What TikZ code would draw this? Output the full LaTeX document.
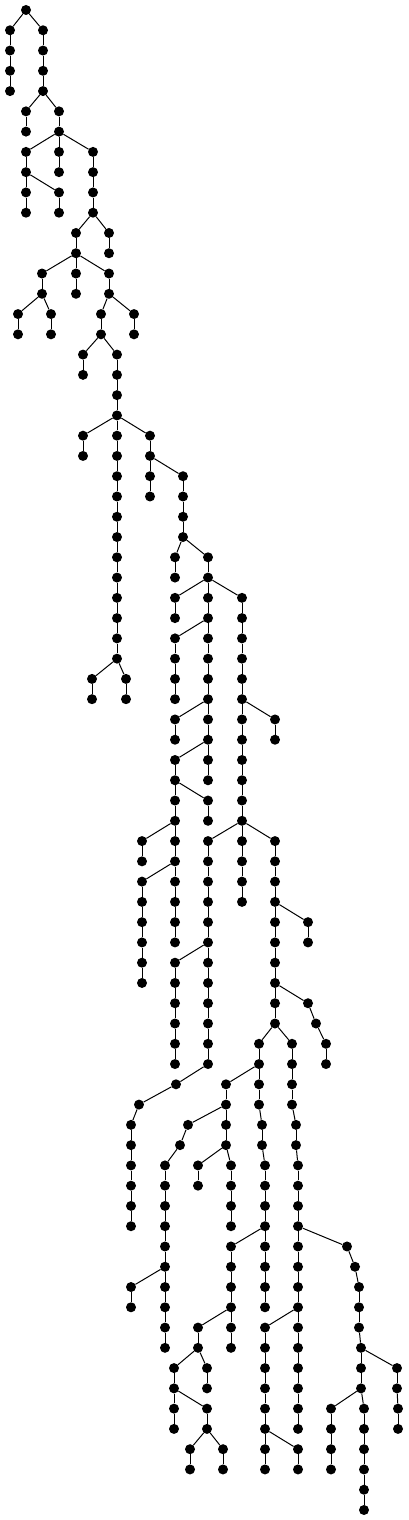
\documentclass[tikz,border=0pt]{standalone}
\begin{document}
\begin{tikzpicture}[x=1pt,y=-1pt,
  dot/.style={circle,fill=black,draw=none,inner sep=0pt,minimum size=10pt},
  edge/.style={line width=1pt,black}]
\useasboundingbox (0,0) rectangle (408,1520);
\node[dot] (n0x26) at (26,10) {};
\foreach \xv/\lv/\pv in {
10/1/0x26, 43/1/0x26,
10/2/1x10, 43/2/1x43,
10/3/2x10, 43/3/2x43,
10/4/3x10, 43/4/3x43,
26/5/4x43, 59/5/4x43,
26/6/5x26, 59/6/5x59,
26/7/6x59, 59/7/6x59, 93/7/6x59,
26/8/7x26, 59/8/7x59, 93/8/7x93,
26/9/8x26, 59/9/8x26, 93/9/8x93,
26/10/9x26, 59/10/9x59, 93/10/9x93,
76/11/10x93, 109/11/10x93,
76/12/11x76, 109/12/11x109,
42/13/12x76, 76/13/12x76, 109/13/12x76,
42/14/13x42, 76/14/13x76, 109/14/13x109,
18/15/14x42, 51/15/14x42, 101/15/14x109, 134/15/14x109,
18/16/15x18, 51/16/15x51, 101/16/15x101, 134/16/15x134,
83/17/16x101, 117/17/16x101,
83/18/17x83, 117/18/17x117,
117/19/18x117,
117/20/19x117,
83/21/20x117, 117/21/20x117, 150/21/20x117,
83/22/21x83, 117/22/21x117, 150/22/21x150,
117/23/22x117, 150/23/22x150, 183/23/22x150,
117/24/23x117, 150/24/23x150, 183/24/23x183,
117/25/24x117, 183/25/24x183,
117/26/25x117, 183/26/25x183,
117/27/26x117, 175/27/26x183, 208/27/26x183,
117/28/27x117, 175/28/27x175, 208/28/27x208,
117/29/28x117, 175/29/28x208, 208/29/28x208, 242/29/28x208,
117/30/29x117, 175/30/29x175, 208/30/29x208, 242/30/29x242,
117/31/30x117, 175/31/30x208, 208/31/30x208, 242/31/30x242,
117/32/31x117, 175/32/31x175, 208/32/31x208, 242/32/31x242,
92/33/32x117, 126/33/32x117, 175/33/32x175, 208/33/32x208, 242/33/32x242,
92/34/33x92, 126/34/33x126, 175/34/33x175, 208/34/33x208, 242/34/33x242,
175/35/34x208, 208/35/34x208, 242/35/34x242, 275/35/34x242,
175/36/35x175, 208/36/35x208, 242/36/35x242, 275/36/35x275,
175/37/36x208, 208/37/36x208, 242/37/36x242,
175/38/37x175, 208/38/37x208, 242/38/37x242,
175/39/38x175, 208/39/38x175, 242/39/38x242,
175/40/39x175, 208/40/39x208, 242/40/39x242,
142/41/40x175, 175/41/40x175, 208/41/40x242, 242/41/40x242, 275/41/40x242,
142/42/41x142, 175/42/41x175, 208/42/41x208, 242/42/41x242, 275/42/41x275,
142/43/42x175, 175/43/42x175, 208/43/42x208, 242/43/42x242, 275/43/42x275,
142/44/43x142, 175/44/43x175, 208/44/43x208, 242/44/43x242, 275/44/43x275,
142/45/44x142, 175/45/44x175, 208/45/44x208, 275/45/44x275, 308/45/44x275,
142/46/45x142, 175/46/45x175, 208/46/45x208, 275/46/45x275, 308/46/45x308,
142/47/46x142, 175/47/46x208, 208/47/46x208, 275/47/46x275,
142/48/47x142, 175/48/47x175, 208/48/47x208, 275/48/47x275,
175/49/48x175, 208/49/48x208, 275/49/48x275, 308/49/48x275,
175/50/49x175, 208/50/49x208, 275/50/49x275, 316/50/49x308,
175/51/50x175, 208/51/50x208, 259/51/50x275, 292/51/50x275, 326/51/50x316,
175/52/51x175, 208/52/51x208, 259/52/51x259, 292/52/51x292, 326/52/51x326,
176/53/52x208, 226/53/52x259, 259/53/52x259, 292/53/52x292,
139/54/53x176, 226/54/53x226, 259/54/53x259, 292/54/53x292,
131/55/54x139, 188/55/54x226, 226/55/54x226, 262/55/54x259, 296/55/54x292,
131/56/55x131, 180/56/55x188, 226/56/55x226, 262/56/55x262, 296/56/55x296,
131/57/56x131, 165/57/56x180, 198/57/56x226, 231/57/56x226, 265/57/56x262, 298/57/56x296,
131/58/57x131, 165/58/57x165, 198/58/57x198, 231/58/57x231, 265/58/57x265, 298/58/57x298,
131/59/58x131, 165/59/58x165, 231/59/58x231, 265/59/58x265, 298/59/58x298,
131/60/59x131, 165/60/59x165, 231/60/59x231, 265/60/59x265, 298/60/59x298,
165/61/60x165, 231/61/60x265, 265/61/60x265, 298/61/60x298, 347/61/60x298,
165/62/61x165, 231/62/61x231, 265/62/61x265, 298/62/61x298, 355/62/61x347,
131/63/62x165, 165/63/62x165, 231/63/62x231, 265/63/62x265, 298/63/62x298, 359/63/62x355,
131/64/63x131, 165/64/63x165, 231/64/63x231, 265/64/63x265, 298/64/63x298, 359/64/63x359,
165/65/64x165, 198/65/64x231, 231/65/64x231, 265/65/64x298, 298/65/64x298, 359/65/64x359,
165/66/65x165, 198/66/65x198, 231/66/65x231, 265/66/65x265, 298/66/65x298, 361/66/65x359,
174/67/66x198, 207/67/66x198, 265/67/66x265, 298/67/66x298, 361/67/66x361, 397/67/66x361,
174/68/67x174, 207/68/67x207, 265/68/67x265, 298/68/67x298, 361/68/67x361, 397/68/67x397,
174/69/68x174, 207/69/68x174, 265/69/68x265, 298/69/68x298, 331/69/68x361, 364/69/68x361, 398/69/68x397,
174/70/69x174, 207/70/69x207, 265/70/69x265, 298/70/69x298, 331/70/69x331, 364/70/69x364, 398/70/69x398,
190/71/70x207, 223/71/70x207, 265/71/70x265, 298/71/70x265, 331/71/70x331, 364/71/70x364,
190/72/71x190, 223/72/71x223, 265/72/71x265, 298/72/71x298, 331/72/71x331, 364/72/71x364,
364/73/72x364,
364/74/73x364}
{
  \node[dot] (n\lv x\xv) at (\xv,{10+20.27*\lv}) {};
  \draw[edge] (n\pv) -- (n\lv x\xv);
}
\end{tikzpicture}
\end{document}
